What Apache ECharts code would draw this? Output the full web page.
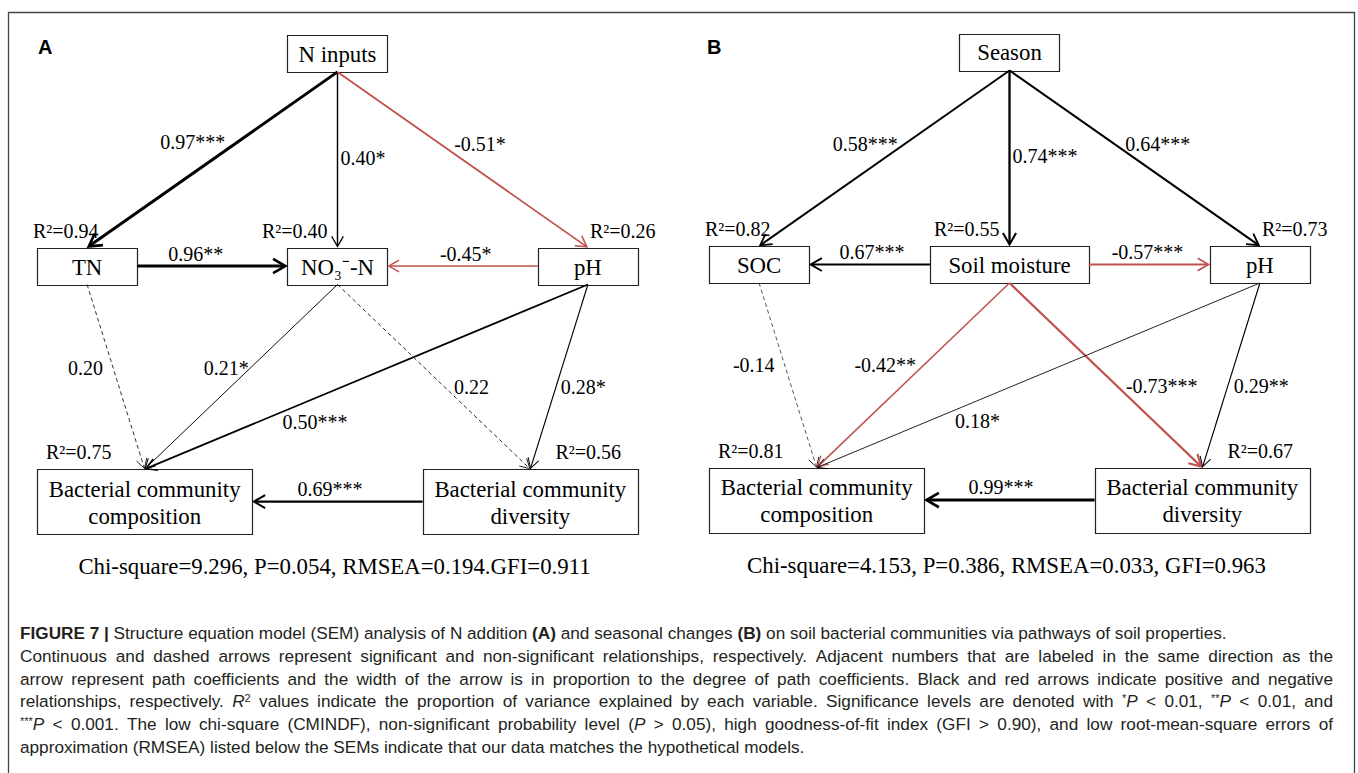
<!DOCTYPE html>
<html>
<head>
<meta charset="utf-8">
<title>SEM path diagrams</title>
<script src="https://cdn.jsdelivr.net/npm/echarts@6/dist/echarts.min.js"></script>
<style>
  html, body { margin: 0; padding: 0; background: #fff; }
  #main { width: 1358px; height: 773px; }
</style>
</head>
<body>
<div id="main"></div>
<script>
// ---------- Panel A: N addition ----------
const namesA = ['N inputs', 'TN', 'NO\u2083\u207B-N', 'pH', 'Bacterial community\ncomposition', 'Bacterial community\ndiversity'];
const r2A    = [null, 0.94, 0.40, 0.26, 0.75, 0.56];
const fromA  = [0, 0, 0, 1, 3, 1, 2, 2, 3, 3, 5];
const toA    = [1, 2, 3, 2, 2, 4, 4, 5, 5, 4, 4];
const coefA  = [0.97, 0.40, -0.51, 0.96, -0.45, 0.20, 0.21, 0.22, 0.28, 0.50, 0.69];
const sigA   = ['***', '*', '*', '**', '*', '', '*', '', '*', '***', '***'];
const fitA   = 'Chi-square=9.296, P=0.054, RMSEA=0.194.GFI=0.911';

// ---------- Panel B: seasonal changes ----------
const namesB = ['Season', 'SOC', 'Soil moisture', 'pH', 'Bacterial community\ncomposition', 'Bacterial community\ndiversity'];
const r2B    = [null, 0.82, 0.55, 0.73, 0.81, 0.67];
const fromB  = [0, 0, 0, 2, 2, 1, 2, 2, 3, 3, 5];
const toB    = [1, 2, 3, 1, 3, 4, 4, 5, 5, 4, 4];
const coefB  = [0.58, 0.74, 0.64, 0.67, -0.57, -0.14, -0.42, -0.73, 0.29, 0.18, 0.99];
const sigB   = ['***', '***', '***', '***', '***', '', '**', '***', '**', '*', '***'];
const fitB   = 'Chi-square=4.153, P=0.386, RMSEA=0.033, GFI=0.963';

// ---------- caption (segments: [style, text]) ----------
const captionLines = [
  [['b', 'FIGURE 7 |'], ['n', ' Structure equation model (SEM) analysis of N addition '], ['b', '(A)'],
   ['n', ' and seasonal changes '], ['b', '(B)'], ['n', ' on soil bacterial communities via pathways of soil properties.']],
  [['n', 'Continuous and dashed arrows represent significant and non-significant relationships, respectively. Adjacent numbers that are labeled in the same direction as the']],
  [['n', 'arrow represent path coefficients and the width of the arrow is in proportion to the degree of path coefficients. Black and red arrows indicate positive and negative']],
  [['n', 'relationships, respectively. '], ['i', 'R'], ['sup', '2'],
   ['n', ' values indicate the proportion of variance explained by each variable. Significance levels are denoted with '],
   ['sup', '*'], ['i', 'P'], ['n', ' < 0.01, '], ['sup', '**'], ['i', 'P'], ['n', ' < 0.01, and']],
  [['sup', '***'], ['i', 'P'], ['n', ' < 0.001. The low chi-square (CMINDF), non-significant probability level ('], ['i', 'P'],
   ['n', ' > 0.05), high goodness-of-fit index (GFI > 0.90), and low root-mean-square errors of']],
  [['n', 'approximation (RMSEA) listed below the SEMs indicate that our data matches the hypothetical models.']]
];
const captionJustified = [false, true, true, true, true, false];

// ---------- diagram layout (axis units: x 0..12, y 0..100) ----------
const nodeX = [6, 1, 6, 11, 2.15, 9.85];
const nodeY = [3.7, 46.3, 46.3, 46.3, 93.5, 93.5];
const boxH  = [7.4, 7.4, 7.4, 7.4, 13, 13];
const boxWA = [2, 2, 2, 2, 4.3, 4.3];
const boxWB = [2, 2, 3.17, 2, 4.3, 4.3];
const fitPos = [5.94, 106.6];
// R² label: [text align, fraction of box width, pixel shift]
const r2Pos = [null, ['left', 0, -4], ['right', 0.5, -10], ['left', 0.5, 2], ['left', 0, 9], ['right', 1, -17]];
// path label: [fraction along arrow, side, gap in px]
const labelPosA = [[0.40,'left',12],[0.49,'right',3],[0.41,'right',14],[0.39,'above',12],[0.48,'above',12],
                   [0.45,'left',10],[0.45,'left',2],[0.557,'right',9],[0.557,'right',5],[0.616,'below',24],[0.544,'above',13]];
const labelPosB = [[0.418,'left',7],[0.486,'right',3],[0.418,'right',11],[0.48,'above',13],[0.485,'above',13],
                   [0.443,'left',10],[0.443,'left',8],[0.557,'right',9],[0.557,'right',6],[0.637,'below',20],[0.55,'above',13]];

const RED = '#c0504d';
const SERIF = 'Liberation Serif';
const SANS = 'Liberation Sans';
const INK = '#231f20';
const BOX_FONT = 22.8, PATH_FONT = 20;

const panels = [
  { names: namesA, r2: r2A, from: fromA, to: toA, coef: coefA, sig: sigA, fit: fitA, boxW: boxWA, labelPos: labelPosA },
  { names: namesB, r2: r2B, from: fromB, to: toB, coef: coefB, sig: sigB, fit: fitB, boxW: boxWB, labelPos: labelPosB }
];

function arrowEnds(api, p, f, t) {
  const cf = api.coord([nodeX[f], nodeY[f]]);
  const ct = api.coord([nodeX[t], nodeY[t]]);
  const sf = api.size([p.boxW[f], boxH[f]], [nodeX[f], nodeY[f]]);
  const st = api.size([p.boxW[t], boxH[t]], [nodeX[t], nodeY[t]]);
  if (nodeY[f] === nodeY[t]) {
    const dir = Math.sign(ct[0] - cf[0]);
    return [[cf[0] + dir * sf[0] / 2, cf[1]], [ct[0] - dir * st[0] / 2, ct[1]]];
  }
  const dir = ct[1] > cf[1] ? 1 : -1;
  return [[cf[0], cf[1] + dir * sf[1] / 2], [ct[0], ct[1] - dir * st[1] / 2]];
}

function serifText(text, x, y, size, align, extra) {
  return { type: 'text', style: Object.assign({ text, x, y, align, verticalAlign: 'middle',
    fontFamily: SERIF, fontSize: size, fill: '#000' }, extra || {}) };
}

function buildSeries(p, gi) {
  const base = { type: 'custom', coordinateSystem: 'cartesian2d', xAxisIndex: gi, yAxisIndex: gi,
                 animation: false, silent: true, clip: false };

  const nodes = Object.assign({}, base, {
    data: p.names.map((n, i) => [nodeX[i], nodeY[i], i]),
    renderItem(params, api) {
      const i = api.value(2);
      const c = api.coord([api.value(0), api.value(1)]);
      const s = api.size([p.boxW[i], boxH[i]], [api.value(0), api.value(1)]);
      const x0 = Math.round(c[0] - s[0] / 2) + 0.5;
      const y0 = Math.round(c[1] - s[1] / 2) + 0.5;
      const children = [
        { type: 'rect', shape: { x: x0, y: y0, width: Math.round(s[0]), height: Math.round(s[1]) },
          style: { fill: '#fff', stroke: '#222', lineWidth: 1.2 } },
        serifText(p.names[i], c[0], c[1] + 1, BOX_FONT, 'center', { lineHeight: 27 })
      ];
      if (p.r2[i] != null) {
        const rp = r2Pos[i];
        children.push(serifText('R\u00B2=' + p.r2[i].toFixed(2),
          c[0] - s[0] / 2 + rp[1] * s[0] + rp[2], c[1] - s[1] / 2 - 17, PATH_FONT, rp[0]));
      }
      return { type: 'group', children };
    }
  });

  const paths = Object.assign({}, base, {
    data: p.coef.map((c, k) => [k, c]),
    renderItem(params, api) {
      const k = api.value(0);
      const c = p.coef[k];
      const [a, b] = arrowEnds(api, p, p.from[k], p.to[k]);
      const dx = b[0] - a[0], dy = b[1] - a[1];
      const len = Math.hypot(dx, dy);
      const ux = dx / len, uy = dy / len, nx = -uy, ny = ux;
      const w = 0.4 + 2.6 * Math.abs(c);
      const dashed = p.sig[k] === '';
      // non-significant paths are dashed black; significant ones black (+) or red (-)
      const color = dashed ? '#222' : (c < 0 ? RED : '#000');
      const tip = [b[0] - ux * w * 0.7, b[1] - uy * w * 0.7];
      const hl = 8 + 1.5 * w, hw = 4.5 + 0.9 * w;
      const lp = p.labelPos[k];
      const px = a[0] + dx * lp[0], py = a[1] + dy * lp[0];
      let lx = px, ly = py, align = 'center';
      if (lp[1] === 'left') { lx = px - lp[2]; align = 'right'; }
      else if (lp[1] === 'right') { lx = px + lp[2]; align = 'left'; }
      else if (lp[1] === 'above') { ly = py - lp[2]; }
      else { ly = py + lp[2]; }
      return { type: 'group', children: [
        { type: 'line', shape: { x1: a[0], y1: a[1], x2: tip[0] - ux * w * 0.5, y2: tip[1] - uy * w * 0.5 },
          style: { stroke: color, lineWidth: w, lineDash: dashed ? [4, 3] : null } },
        { type: 'polyline', shape: { points: [
            [tip[0] - ux * hl + nx * hw, tip[1] - uy * hl + ny * hw], tip,
            [tip[0] - ux * hl - nx * hw, tip[1] - uy * hl - ny * hw]] },
          style: { stroke: color, lineWidth: Math.max(1, w * 0.9), fill: null, lineJoin: 'miter' } },
        serifText(c.toFixed(2) + p.sig[k], lx, ly, PATH_FONT, align)
      ] };
    }
  });

  const fit = Object.assign({}, base, {
    data: [fitPos],
    renderItem(params, api) {
      const c = api.coord([api.value(0), api.value(1)]);
      return serifText(p.fit, c[0], c[1], BOX_FONT, 'center');
    }
  });

  return [nodes, paths, fit];
}

// ---------- caption: rich text, inner lines justified to the right margin ----------
const CAP_SIZE = 17.2, CAP_SUP = 11, CAP_LEFT = 20, CAP_RIGHT = 1333, CAP_TOP = 633, CAP_STEP = 22.8;
const capFonts = {
  n: CAP_SIZE + 'px ' + SANS,
  b: 'bold ' + CAP_SIZE + 'px ' + SANS,
  i: 'italic ' + CAP_SIZE + 'px ' + SANS,
  sup: CAP_SUP + 'px ' + SANS
};
const measureCtx = document.createElement('canvas').getContext('2d');
function measure(font, txt) { measureCtx.font = font; return measureCtx.measureText(txt).width; }

function captionGraphic(segs, justified, y) {
  const spaceW = measure(capFonts.n, ' ');
  const tokens = [];
  let natural = 0, gaps = 0;
  segs.forEach(([st, txt]) => {
    txt.split(' ').forEach((word, j) => {
      if (j > 0) { tokens.push(null); natural += spaceW; gaps++; }
      if (word) { tokens.push([st, word]); natural += measure(capFonts[st], word); }
    });
  });
  const extra = justified && gaps ? (CAP_RIGHT - CAP_LEFT - natural) / gaps : 0;
  const text = tokens.map(t => t ? '{' + t[0] + '|' + t[1] + '}' : '{sp| }').join('');
  return { type: 'text', x: CAP_LEFT, y, silent: true,
    style: { text, fontFamily: SANS, fontSize: CAP_SIZE, fill: INK, verticalAlign: 'middle',
      rich: {
        n: { fontSize: CAP_SIZE, fontFamily: SANS, fill: INK },
        b: { fontWeight: 'bold', fontSize: CAP_SIZE, fontFamily: SANS, fill: INK },
        i: { fontStyle: 'italic', fontSize: CAP_SIZE, fontFamily: SANS, fill: INK },
        sup: { fontSize: CAP_SUP, fontFamily: SANS, verticalAlign: 'top', fill: INK },
        sp: { fontSize: CAP_SIZE, fontFamily: SANS, width: spaceW + extra }
      } } };
}

const chart = echarts.init(document.getElementById('main'), null, { renderer: 'svg', width: 1358, height: 773 });

const graphics = [
  { type: 'rect', shape: { x: 8.5, y: 12.5, width: 1346, height: 820 }, silent: true,
    style: { fill: 'none', stroke: '#444', lineWidth: 1.3 }, z: -1 },
  { type: 'text', x: 38, y: 47, silent: true,
    style: { text: 'A', fontFamily: SANS, fontWeight: 'bold', fontSize: 20, fill: '#000', verticalAlign: 'middle' } },
  { type: 'text', x: 707, y: 47, silent: true,
    style: { text: 'B', fontFamily: SANS, fontWeight: 'bold', fontSize: 20, fill: '#000', verticalAlign: 'middle' } }
];
captionLines.forEach((segs, i) => graphics.push(captionGraphic(segs, captionJustified[i], CAP_TOP + i * CAP_STEP)));

chart.setOption({
  animation: false,
  grid: [
    { left: 37, top: 35, width: 601, height: 499 },
    { left: 709, top: 33.5, width: 601, height: 499 }
  ],
  xAxis: [0, 1].map(g => ({ gridIndex: g, type: 'value', min: 0, max: 12, show: false })),
  yAxis: [0, 1].map(g => ({ gridIndex: g, type: 'value', min: 0, max: 100, inverse: true, show: false })),
  series: [].concat(buildSeries(panels[0], 0), buildSeries(panels[1], 1)),
  graphic: graphics
});
</script>
</body>
</html>
